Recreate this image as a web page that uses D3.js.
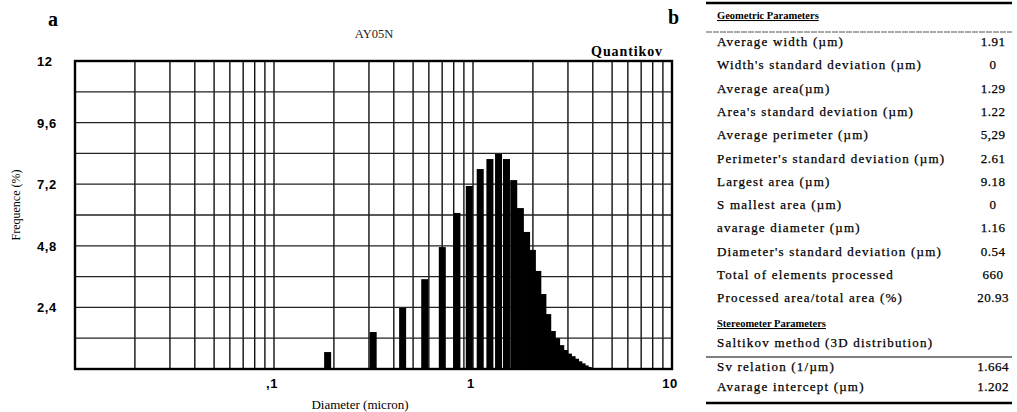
<!DOCTYPE html>
<html>
<head>
<meta charset="utf-8">
<script src="https://cdn.jsdelivr.net/npm/d3@7/dist/d3.min.js"></script>
<style>
  html, body { margin: 0; padding: 0; background: #fff; }
  svg { display: block; }
</style>
</head>
<body>
<svg id="chart" width="1017" height="412"></svg>
<script>
// ---------- data ----------
const diameters = [0.186, 0.315, 0.443, 0.572, 0.701, 0.830, 0.958, 1.087, 1.216, 1.344,
                   1.473, 1.602, 1.730, 1.859, 1.988, 2.117, 2.245, 2.374, 2.503, 2.631,
                   2.760, 2.889, 3.017, 3.146, 3.275, 3.404, 3.532, 3.661, 3.790];
const frequencies = [0.66, 1.44, 2.38, 3.50, 4.75, 6.08, 7.13, 7.79, 8.18, 8.38,
                     8.18, 7.36, 6.27, 5.34, 4.64, 3.82, 2.92, 2.14, 1.48, 1.20,
                     0.93, 0.74, 0.60, 0.50, 0.40, 0.30, 0.22, 0.14, 0.08];
const yTickValues = [2.4, 4.8, 7.2, 9.6, 12];
const yTickLabels = ["2,4", "4,8", "7,2", "9,6", "12"];
const xTickValues = [0.1, 1, 10];
const xTickLabels = [",1", "1", "10"];

const geoLabels = ["Average width (µm)", "Width's standard deviation (µm)", "Average area(µm)",
  "Area's standard deviation (µm)", "Average perimeter (µm)", "Perimeter's standard deviation (µm)",
  "Largest area (µm)", "S mallest area (µm)", "avarage diameter (µm)",
  "Diameter's standard deviation (µm)", "Total of elements processed", "Processed area/total area (%)"];
const geoValues = ["1.91", "0", "1.29", "1.22", "5,29", "2.61", "9.18", "0", "1.16", "0.54", "660", "20.93"];
const stereoLabels = ["Sv relation (1/µm)", "Avarage intercept (µm)"];
const stereoValues = ["1.664", "1.202"];

// ---------- layout ----------
const svg = d3.select("#chart");
const L = 75, R = 672, T = 61, B = 369;
const x = d3.scaleLog().domain([0.01, 10]).range([L, R]);
const y = d3.scaleLinear().domain([0, 12]).range([B, T]);

const g = svg.append("g");

// grid
const xGrid = x.ticks();
g.selectAll("line.vg").data(xGrid).join("line")
  .attr("x1", d => x(d)).attr("x2", d => x(d))
  .attr("y1", T).attr("y2", B)
  .attr("stroke", "#111").attr("stroke-width", 1.4);
const yGrid = d3.range(1, 11).map(i => i * 1.2);
g.selectAll("line.hg").data(yGrid).join("line")
  .attr("x1", L).attr("x2", R)
  .attr("y1", d => y(d)).attr("y2", d => y(d))
  .attr("stroke", "#222").attr("stroke-width", 1.3);

// bars
const barW = 7;
g.selectAll("rect.bar").data(diameters).join("rect")
  .attr("x", d => x(d) - barW / 2)
  .attr("width", barW)
  .attr("y", (d, i) => y(frequencies[i]))
  .attr("height", (d, i) => y(0) - y(frequencies[i]))
  .attr("fill", "#000");

// frame
g.append("rect").attr("x", L).attr("y", T).attr("width", R - L).attr("height", B - T)
  .attr("fill", "none").attr("stroke", "#000").attr("stroke-width", 2.4);

// y tick labels
g.selectAll("text.yt").data(yTickValues).join("text")
  .attr("x", 37).attr("y", d => y(d) + 5)
  .attr("text-anchor", "start")
  .attr("font-family", "Liberation Sans, Arial, sans-serif")
  .attr("font-weight", "bold").attr("font-size", 13).attr("letter-spacing", 0.6)
  .text((d, i) => yTickLabels[i]);

// x tick labels
g.selectAll("text.xt").data(xTickValues).join("text")
  .attr("x", d => x(d) - 2).attr("y", 388)
  .attr("text-anchor", "middle")
  .attr("font-family", "Liberation Sans, Arial, sans-serif")
  .attr("font-weight", "bold").attr("font-size", 13).attr("letter-spacing", 0.6)
  .text((d, i) => xTickLabels[i]);

// axis titles
g.append("text").attr("x", 360).attr("y", 409).attr("text-anchor", "middle")
  .attr("font-family", "Liberation Serif, Times New Roman, serif").attr("font-size", 13)
  .text("Diameter (micron)");
g.append("text").attr("transform", "translate(20,205) rotate(-90)").attr("text-anchor", "middle")
  .attr("font-family", "Liberation Serif, Times New Roman, serif").attr("font-size", 12)
  .text("Frequence (%)");

// titles
g.append("text").attr("x", 374).attr("y", 38).attr("text-anchor", "middle")
  .attr("font-family", "Liberation Serif, Times New Roman, serif").attr("font-size", 12.5)
  .attr("fill", "#222").text("AY05N");
g.append("text").attr("x", 663).attr("y", 56).attr("text-anchor", "end")
  .attr("font-family", "Liberation Serif, Times New Roman, serif").attr("font-weight", "bold")
  .attr("font-size", 14).attr("letter-spacing", 0.9).text("Quantikov");
g.append("text").attr("x", 48).attr("y", 26)
  .attr("font-family", "Liberation Serif, Times New Roman, serif").attr("font-weight", "bold")
  .attr("font-size", 20).text("a");
g.append("text").attr("x", 668).attr("y", 24)
  .attr("font-family", "Liberation Serif, Times New Roman, serif").attr("font-weight", "bold")
  .attr("font-size", 20).text("b");

// ---------- table ----------
const tL = 706, tR = 1012, tx = 717, vx = 993;
const tb = svg.append("g").attr("font-family", "Liberation Serif, Times New Roman, serif");
const bodyText = sel => sel.attr("font-size", 13).attr("fill", "#000")
  .attr("stroke", "#000").attr("stroke-width", 0.25);

tb.append("line").attr("x1", tL).attr("x2", tR).attr("y1", 3).attr("y2", 3)
  .attr("stroke", "#000").attr("stroke-width", 2.4);
tb.append("text").attr("x", tx).attr("y", 19).attr("font-size", 10.5).attr("font-weight", "bold")
  .attr("text-decoration", "underline").text("Geometric Parameters");
tb.append("line").attr("x1", tL).attr("x2", tR).attr("y1", 32).attr("y2", 32)
  .attr("stroke", "#555").attr("stroke-width", 1).attr("stroke-dasharray", "6,1");

const rowY = i => 46 + i * 23.3;
tb.selectAll("text.gl").data(geoLabels).join("text")
  .attr("x", tx).attr("y", (d, i) => rowY(i)).attr("letter-spacing", 1.2)
  .call(bodyText).text(d => d);
tb.selectAll("text.gv").data(geoValues).join("text")
  .attr("x", vx).attr("y", (d, i) => rowY(i)).attr("text-anchor", "middle")
  .attr("letter-spacing", 0.5).call(bodyText).text(d => d);

tb.append("text").attr("x", tx).attr("y", 327).attr("font-size", 10.5).attr("font-weight", "bold")
  .attr("text-decoration", "underline").text("Stereometer Parameters");
tb.append("text").attr("x", tx).attr("y", 347).attr("letter-spacing", 1.2)
  .call(bodyText).text("Saltikov method (3D distribution)");
tb.append("line").attr("x1", tL).attr("x2", tR).attr("y1", 357).attr("y2", 357)
  .attr("stroke", "#000").attr("stroke-width", 1.2);
const sRowY = i => 371 + i * 19.5;
tb.selectAll("text.sl").data(stereoLabels).join("text")
  .attr("x", tx).attr("y", (d, i) => sRowY(i)).attr("letter-spacing", 1.2)
  .call(bodyText).text(d => d);
tb.selectAll("text.sv").data(stereoValues).join("text")
  .attr("x", vx).attr("y", (d, i) => sRowY(i)).attr("text-anchor", "middle")
  .attr("letter-spacing", 0.5).call(bodyText).text(d => d);
tb.append("line").attr("x1", tL).attr("x2", tR).attr("y1", 403).attr("y2", 403)
  .attr("stroke", "#000").attr("stroke-width", 2.4);
</script>
</body>
</html>
